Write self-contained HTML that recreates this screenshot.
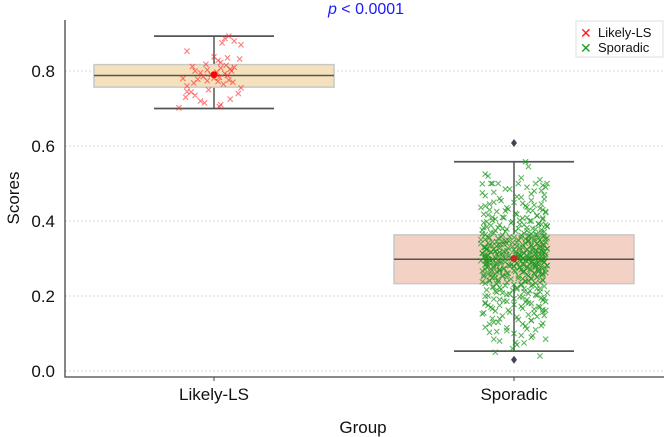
<!DOCTYPE html>
<html><head><meta charset="utf-8"><style>
body{margin:0;background:#fff;}
svg{display:block;font-family:"Liberation Sans",sans-serif;}
</style></head><body>
<svg id="chart" width="664" height="437" viewBox="0 0 664 437"></svg>
<script>
const categories=["Likely-LS","Sporadic"];
const whiskLo=[0.70,0.053], whiskHi=[0.893,0.558];
const q1=[0.757,0.233], q3=[0.817,0.363], medians=[0.788,0.298], means=[0.79,0.30];
const outliers=[[],[0.608,0.030]];
const boxFill=["#f5e2bc","#f3d2c5"];
const ptColor=["#ff2020","#1a961a"];
const yTicks=[0.0,0.2,0.4,0.6,0.8];
const tickLabels=["0.0","0.2","0.4","0.6","0.8"];
const llsValues=[0.853,0.838,0.835,0.823,0.812,0.810,0.808,0.805,0.803,0.800,0.797,0.795,0.793,0.790,0.788,0.785,0.783,0.780,0.778,0.776,0.774,0.772,0.770,0.768,0.765,0.760,0.755,0.750,0.745,0.740,0.735,0.730,0.725,0.720,0.715,0.710,0.705,0.702,0.893,0.887,0.880,0.875,0.870,0.832,0.828,0.818,0.815,0.800,0.781,0.744];
const llsJitter=[-0.2,0.0,0.1,0.05,-0.16,0.15,0.05,0.12,-0.05,0.13,0.02,-0.1,0.08,-0.02,0.1,-0.08,0.04,-0.23,-0.12,0.11,-0.05,0.03,0.14,-0.15,0.07,-0.2,0.2,-0.04,-0.2,0.18,-0.14,-0.21,0.12,-0.1,-0.07,0.05,0.04,-0.26,0.11,0.08,0.15,0.06,0.2,0.19,0.03,-0.06,0.09,-0.14,0.0,-0.17];
const spoValues=[0.558,0.545,0.525,0.52,0.515,0.51,0.5,0.495,0.49,0.485,0.48,0.475,0.47,0.465,0.46,0.455,0.45,0.447,0.445,0.44,0.437,0.435,0.43,0.428,0.425,0.42,0.418,0.415,0.41,0.408,0.405,0.402,0.4,0.398,0.395,0.392,0.39,0.388,0.385,0.382,0.38,0.378,0.376,0.374,0.372,0.37,0.368,0.366,0.364,0.362,0.36,0.358,0.356,0.355,0.353,0.352,0.35,0.349,0.348,0.346,0.345,0.344,0.342,0.341,0.34,0.338,0.337,0.336,0.334,0.333,0.332,0.33,0.329,0.328,0.327,0.326,0.325,0.324,0.322,0.321,0.32,0.319,0.318,0.317,0.316,0.315,0.314,0.313,0.312,0.311,0.31,0.309,0.308,0.307,0.306,0.305,0.304,0.303,0.302,0.301,0.3,0.299,0.298,0.297,0.296,0.295,0.294,0.293,0.292,0.291,0.29,0.289,0.288,0.287,0.286,0.285,0.284,0.283,0.282,0.281,0.28,0.279,0.278,0.277,0.276,0.275,0.274,0.273,0.272,0.271,0.27,0.268,0.267,0.266,0.265,0.264,0.262,0.261,0.26,0.258,0.257,0.256,0.255,0.253,0.252,0.25,0.249,0.248,0.246,0.245,0.243,0.242,0.24,0.238,0.236,0.234,0.232,0.23,0.228,0.226,0.224,0.222,0.22,0.218,0.216,0.214,0.212,0.21,0.208,0.205,0.203,0.2,0.198,0.195,0.192,0.19,0.187,0.185,0.182,0.18,0.177,0.175,0.172,0.17,0.167,0.165,0.162,0.16,0.157,0.155,0.15,0.147,0.145,0.14,0.137,0.135,0.13,0.127,0.125,0.12,0.115,0.11,0.105,0.1,0.095,0.09,0.085,0.08,0.075,0.07,0.06,0.05,0.04,0.38,0.36,0.34,0.32,0.31,0.3,0.29,0.28,0.27,0.26,0.25,0.24,0.35,0.33,0.3,0.27,0.22,0.41,0.43,0.39];
const spoJitter=[0.08,0.1,-0.2,-0.18,0.05,0.18,-0.15,0.2,0.22,-0.03,0.14,-0.22,0.21,0.02,-0.1,0.12,-0.14,0.06,0.19,-0.2,0.09,-0.05,-0.17,0.13,0.22,0.01,-0.21,0.16,-0.08,0.2,-0.13,0.04,0.11,-0.19,-0.02,0.17,0.07,-0.16,0.23,-0.11,0.03,0.15,-0.22,0.09,-0.06,0.19,-0.14,0.12,-0.2,0.05,0.21,-0.09,0.0,-0.17,0.14,0.08,-0.23,0.18,-0.04,0.1,-0.12,0.22,0.02,-0.18,0.16,-0.07,0.06,0.2,-0.15,0.12,-0.01,-0.21,0.17,0.04,-0.1,0.23,-0.19,0.09,0.13,-0.05,0.19,-0.13,0.01,0.21,-0.16,0.07,-0.22,0.15,-0.08,0.11,0.2,-0.03,-0.18,0.05,0.17,-0.11,0.22,-0.2,0.03,0.14,-0.06,0.1,-0.15,0.19,-0.01,0.08,-0.23,0.16,-0.09,0.12,0.21,-0.17,0.02,-0.12,0.18,0.06,-0.2,0.13,-0.04,0.23,-0.14,0.09,0.0,-0.19,0.15,0.04,-0.07,0.2,-0.16,0.11,-0.1,0.17,-0.22,0.07,0.01,-0.12,0.22,-0.05,0.14,-0.18,0.09,0.19,-0.08,0.03,-0.21,0.16,-0.13,0.12,0.06,-0.02,0.2,-0.17,0.1,-0.11,0.18,-0.2,0.05,0.13,-0.06,0.21,-0.15,0.02,0.16,-0.09,-0.19,0.11,0.07,-0.12,0.23,-0.03,0.15,-0.18,0.04,0.19,-0.14,0.09,-0.07,0.22,-0.2,0.12,0.0,-0.1,0.17,-0.16,0.06,0.14,-0.04,-0.13,0.2,-0.21,0.1,-0.08,0.16,-0.15,0.03,0.12,-0.11,0.2,-0.17,0.08,-0.05,0.15,-0.12,0.0,0.05,0.12,-0.14,-0.1,0.07,0.02,-0.01,-0.13,0.18,-0.08,0.1,-0.05,0.16,-0.2,0.06,0.21,0.0,-0.1,0.2,-0.05];
const NS="http://www.w3.org/2000/svg";
const svg=document.getElementById('chart');
const X0=65,X1=664,Y0=377,YT=20;
const catX=[214,514], catSpan=300;
function y(v){return 371-v*375;}
function x(c,j){return catX[c]+(j||0)*catSpan;}
function mk(tag,at,parent){const e=document.createElementNS(NS,tag);for(const k in at)e.setAttribute(k,at[k]);(parent||svg).appendChild(e);return e;}
yTicks.forEach((t,i)=>{
 const g=mk('line',{x1:X0,x2:X1,y1:y(t),y2:y(t),stroke:'#cccccc','stroke-width':0.8,'stroke-dasharray':'2,2'});
 
 
 const l=mk('text',{x:X0-10,y:y(t)+6,'text-anchor':'end','font-size':17,fill:'#111'});
 l.textContent=tickLabels[i];
 
 
});
const ax=mk('path',{d:`M${X0},${YT}V${Y0}H${X1}`,stroke:'#444',fill:'none','stroke-width':1.3});


categories.forEach((c,i)=>{
 const tk=mk('line',{x1:x(i),x2:x(i),y1:Y0,y2:Y0+4,stroke:'#444'});
 
 
 const t=mk('text',{x:x(i),y:Y0+23,'text-anchor':'middle','font-size':17,fill:'#111'});
 t.textContent=c;
 
 
});
categories.forEach((c,i)=>{
 const g=mk('g',{});
 
 
 const hw=120,cw=60;
 mk('line',{x1:x(i),x2:x(i),y1:y(whiskHi[i]),y2:y(whiskLo[i]),stroke:'#555','stroke-width':1.5},g);
 mk('rect',{x:x(i)-hw,y:y(q3[i]),width:hw*2,height:y(q1[i])-y(q3[i]),fill:boxFill[i],stroke:'#c8c8c8','stroke-width':1.5},g);
 mk('line',{x1:x(i)-hw,x2:x(i)+hw,y1:y(medians[i]),y2:y(medians[i]),stroke:'#555','stroke-width':1.5},g);
 [whiskLo[i],whiskHi[i]].forEach(v=>mk('line',{x1:x(i)-cw,x2:x(i)+cw,y1:y(v),y2:y(v),stroke:'#555','stroke-width':1.8},g));
});
function cross(cx,cy,col,parent,op){
 const s=2.6;
 mk('path',{d:`M${cx-s},${cy-s}L${cx+s},${cy+s}M${cx-s},${cy+s}L${cx+s},${cy-s}`,stroke:col,'stroke-width':1.1,'stroke-opacity':op},parent);
}
const pg0=mk('g',{});


llsValues.forEach((v,k)=>cross(x(0,llsJitter[k%llsJitter.length]*0.45),y(v),ptColor[0],pg0,0.6));
const pg1=mk('g',{});


spoValues.forEach((v,k)=>cross(x(1,spoJitter[k%spoJitter.length]*0.48),y(v),ptColor[1],pg1,0.7));
spoValues.forEach((v,k)=>cross(x(1,spoJitter[(k+37)%spoJitter.length]*0.48),y(Math.min(0.5,v*0.9+0.04)),ptColor[1],pg1,0.7));
categories.forEach((c,i)=>{
 outliers[i].forEach(v=>{
  const o=mk('path',{d:`M${x(i)},${y(v)-4}L${x(i)+3},${y(v)}L${x(i)},${y(v)+4}L${x(i)-3},${y(v)}Z`,fill:'#445'});
  
  
 });
 const m=mk('circle',{cx:x(i),cy:y(means[i]),r:3.5,fill:i==0?'#ff0000':'#c03020'});
 
 
});
</script>
<svg width="664" height="437" style="position:absolute;left:0;top:0">
 <text x="366" y="14" text-anchor="middle" font-size="16" fill="#1a1aff" font-family="Liberation Sans, sans-serif"><tspan font-style="italic">p</tspan> &lt; 0.0001</text>
 <text x="363" y="433" text-anchor="middle" font-size="17" fill="#111" font-family="Liberation Sans, sans-serif">Group</text>
 <text transform="translate(19,198) rotate(-90)" text-anchor="middle" font-size="17" fill="#111" font-family="Liberation Sans, sans-serif">Scores</text>
 <g font-family="Liberation Sans, sans-serif" font-size="13">
  <rect x="576" y="21" width="87" height="36" fill="#fff" stroke="#ddd"/>
  <text x="580" y="38" fill="#ff1a1a" font-size="14">✕</text>
  <text x="598" y="37" fill="#111">Likely-LS</text>
  <text x="580" y="53" fill="#1a9a1a" font-size="14">✕</text>
  <text x="598" y="52" fill="#111">Sporadic</text>
 </g>
</svg>
</body></html>
